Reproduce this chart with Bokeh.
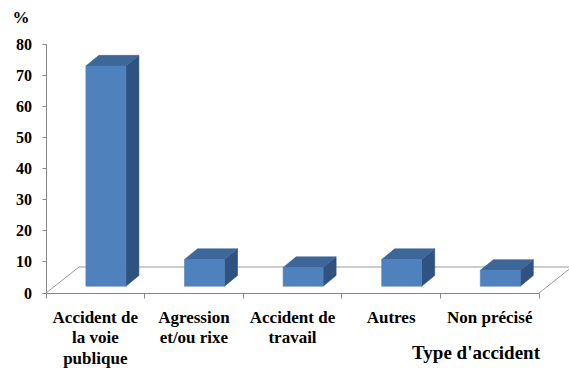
from bokeh.plotting import figure
from bokeh.models import Range1d, FixedTicker, Label, LinearAxis
from bokeh.embed import file_html
from bokeh.resources import INLINE

# Share of cases by type of accident (%)
categories = [
    "Accident de\nla voie\npublique",
    "Agression\net/ou rixe",
    "Accident de\ntravail",
    "Autres",
    "Non précisé",
]
values = [70.9, 8.6, 6.0, 8.6, 5.1]
y_ticks = [0, 10, 20, 30, 40, 50, 60, 70, 80]
y_tick_labels = ["0", "10", "20", "30", "40", "50", "60", "70", "80"]
x_title = "Type d'accident"
y_title = "%"

# pixel scale of the plotting area (used for the oblique 3-D offsets)
PX_CAT = 98.6      # pixels per category
PX_VAL = 3.105     # pixels per percent

W, H = 569, 368
X0_PX, Y0_PX = 45.5, 292.5   # canvas position of the origin

p = figure(width=W, height=H, output_backend="svg", toolbar_location=None,
           x_range=Range1d(-X0_PX / PX_CAT, (W - X0_PX) / PX_CAT),
           y_range=Range1d(-(H - Y0_PX) / PX_VAL, Y0_PX / PX_VAL),
           min_border=0, x_axis_type=None, y_axis_type=None)
p.outline_line_color = None
p.background_fill_color = "white"
p.border_fill_color = "white"
p.xgrid.visible = False
p.ygrid.visible = False

AXIS_GREY = "#868686"
FONT = "'Liberation Serif', 'Times New Roman', serif"
n = len(values)
centres = [i + 0.5 for i in range(n)]


def serif_label(**kw):
    p.add_layout(Label(text_font=FONT, text_font_style="bold",
                       text_color="black", **kw))


# value axis (lines and ticks; labels drawn as serif annotations)
ya = LinearAxis(ticker=FixedTicker(ticks=y_ticks), bounds=(0, 80), fixed_location=0)
ya.axis_line_color = AXIS_GREY
ya.major_tick_line_color = AXIS_GREY
ya.major_tick_out = 4
ya.major_tick_in = 0
ya.minor_tick_line_color = None
ya.major_label_text_color = None
p.add_layout(ya, "left")

# category axis: ticks at category boundaries
xa = LinearAxis(ticker=FixedTicker(ticks=centres, minor_ticks=list(range(n + 1))),
                bounds=(0, n), fixed_location=0)
xa.axis_line_color = AXIS_GREY
xa.major_tick_line_color = None
xa.major_tick_out = 0
xa.major_tick_in = 0
xa.minor_tick_line_color = AXIS_GREY
xa.minor_tick_out = 5
xa.minor_tick_in = 0
xa.major_label_text_color = None
p.add_layout(xa, "below")

# value tick labels
for t, lab in zip(y_ticks, y_tick_labels):
    serif_label(x=0, y=t, text=lab, x_offset=-14,
                text_align="right", text_baseline="middle",
                text_font_size="16px")

# category labels, one centred row per line
FIRST_LINE_PX, LINE_STEP_PX = 24.5, 20.3
for c, cat in zip(centres, categories):
    for k, line in enumerate(cat.split("\n")):
        serif_label(x=c, y=-(FIRST_LINE_PX + k * LINE_STEP_PX) / PX_VAL, text=line,
                    text_align="center", text_baseline="middle",
                    text_font_size="17px")

# floor of the 3-D box
fdx, fdy = 33 / PX_CAT, 26 / PX_VAL
FLOOR_GREY = "#9A9A9A"
p.segment(x0=[0, fdx, n], y0=[0, fdy, 0],
          x1=[fdx, n + fdx + 0.2, n + fdx], y1=[fdy, fdy, fdy],
          line_color=FLOOR_GREY, line_width=1)

# bars: front face, top and side in an oblique projection
off_x, off_y = 10.6 / PX_CAT, 6.8 / PX_VAL   # front face set back into the floor
half = 20 / PX_CAT                            # half width of the front face
dx, dy = 13 / PX_CAT, 10.7 / PX_VAL          # bar depth

FRONT, TOP, SIDE = "#4F81BD", "#3D6798", "#2F5280"

lefts = [c + off_x - half for c in centres]
rights = [c + off_x + half for c in centres]
bottoms = [off_y] * n
tops = [off_y + v for v in values]

side_xs = [[r, r + dx, r + dx, r] for r in rights]
side_ys = [[b, b + dy, t + dy, t] for b, t in zip(bottoms, tops)]
top_xs = [[l, r, r + dx, l + dx] for l, r in zip(lefts, rights)]
top_ys = [[t, t, t + dy, t + dy] for t in tops]

p.patches(side_xs, side_ys, fill_color=SIDE, line_color=SIDE, line_width=0.6)
p.patches(top_xs, top_ys, fill_color=TOP, line_color=TOP, line_width=0.6)
p.quad(left=lefts, right=rights, bottom=bottoms, top=tops,
       fill_color=FRONT, line_color=FRONT, line_width=0.6)

# axis titles
serif_label(x=n + 0.01, y=-59.5 / PX_VAL, text=x_title,
            text_align="right", text_baseline="middle", text_font_size="19px")
serif_label(x=-25 / PX_CAT, y=275.5 / PX_VAL, text=y_title,
            text_align="center", text_baseline="middle", text_font_size="17px")

open("out.html", "w").write(file_html(p, INLINE))
